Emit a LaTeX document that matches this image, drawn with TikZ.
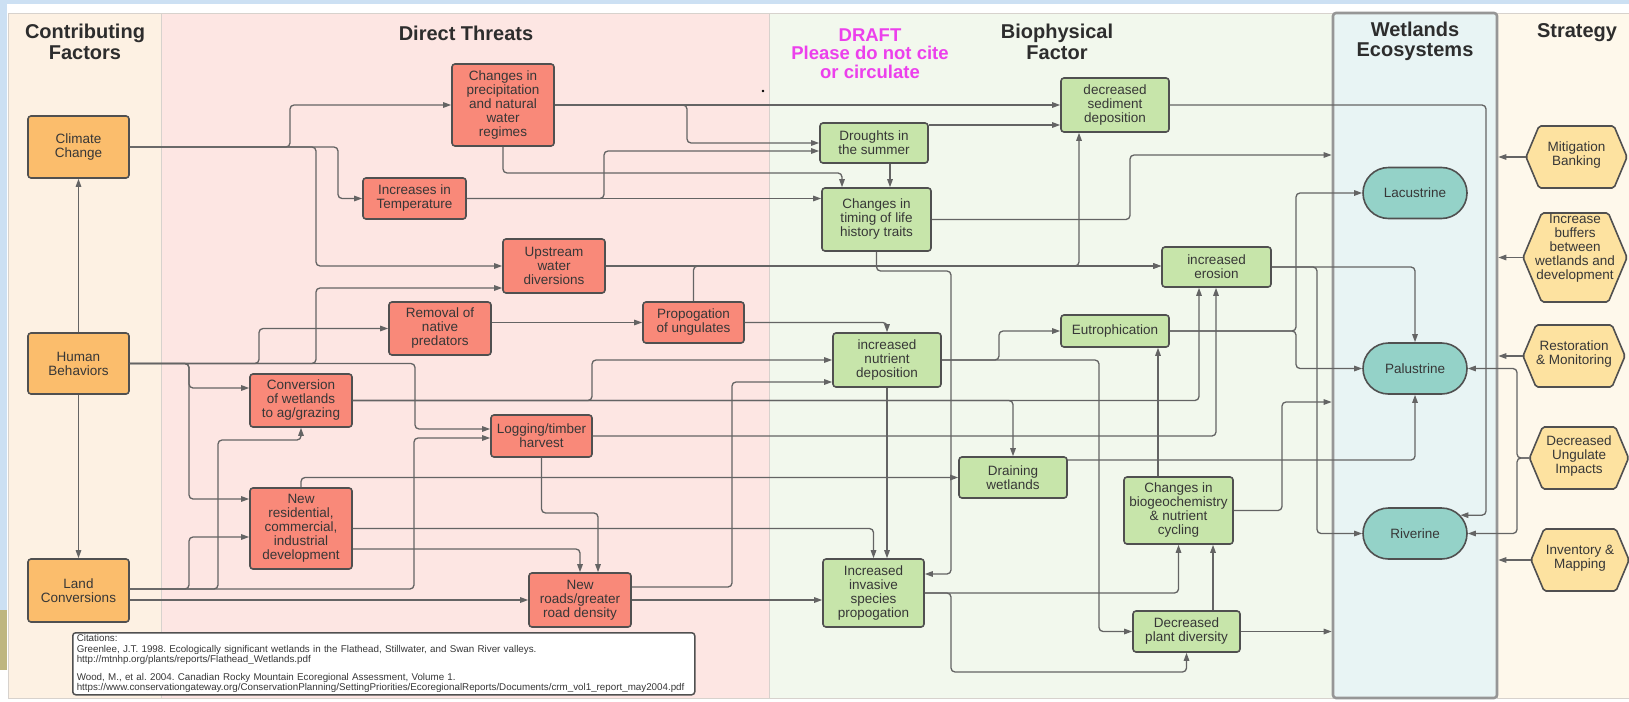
\documentclass[tikz,border=0pt]{standalone}
\usepackage{fontspec}
\setmainfont{Liberation Sans}
\usetikzlibrary{arrows.meta,shapes.misc}
\definecolor{linec}{RGB}{100,100,100}
\definecolor{bord}{RGB}{80,80,80}
\definecolor{txt}{RGB}{55,55,55}
\definecolor{headc}{RGB}{45,45,45}
\definecolor{corange}{RGB}{251,189,108}
\definecolor{csalmon}{RGB}{249,137,121}
\definecolor{cgreen}{RGB}{199,229,170}
\definecolor{cteal}{RGB}{148,210,200}
\definecolor{chex}{RGB}{253,226,160}
\definecolor{lcon}{RGB}{253,241,227}
\definecolor{lthr}{RGB}{253,230,227}
\definecolor{lbio}{RGB}{242,248,237}
\definecolor{lwet}{RGB}{232,244,244}
\definecolor{lstr}{RGB}{254,248,235}
\definecolor{blu}{RGB}{204,224,243}
\definecolor{oliv}{RGB}{190,182,128}
\definecolor{lanebord}{RGB}{215,210,205}
\definecolor{magent}{RGB}{236,64,236}
\newcommand{\mynodefont}{\fontsize{13.5}{14}\selectfont}
\newcommand{\myheadfont}{\fontsize{20}{20.5}\selectfont\bfseries}
\newcommand{\mydraftfont}{\fontsize{18.5}{18.4}\selectfont\bfseries}
\newcommand{\mycitefont}{\fontsize{9.8}{10.4}\selectfont\frenchspacing}
\tikzset{
  box/.style={draw=bord, line width=1.6pt, rounded corners=3pt, text=txt, align=center, inner sep=0pt, font=\mynodefont},
  cf/.style={box, fill=corange},
  dt/.style={box, fill=csalmon},
  bf/.style={box, fill=cgreen},
  we/.style={rounded rectangle, draw=bord, line width=1.6pt, fill=cteal, text=txt, font=\mynodefont, inner sep=0pt, minimum width=104pt, minimum height=51pt},
  hexs/.style={draw=bord, line width=1.6pt, fill=chex, rounded corners=2pt},
  hext/.style={text=txt, align=center, font=\mynodefont, inner sep=0pt},
  conn/.style={draw=linec, line width=1.3pt, rounded corners=4pt, -{Triangle[length=8pt,width=5.5pt]}},
  head/.style={font=\myheadfont, text=headc, align=center, inner sep=0pt},
  draftt/.style={font=\mydraftfont, text=magent, align=center, inner sep=0pt},
  lane/.style={draw=lanebord, line width=0.8pt},
}
\newcommand{\myhex}[7]{%
  \draw[hexs] ({#2-#4/2},#3) -- ({#2-#4/2+#5*0.21},{#3-#5/2}) -- ({#2+#4/2-#5*0.21},{#3-#5/2}) -- ({#2+#4/2},#3) -- ({#2+#4/2-#5*0.21},{#3+#5/2}) -- ({#2-#4/2+#5*0.21},{#3+#5/2}) -- cycle;
  \coordinate (#1tip) at ({#2-#4/2},#3);
  \node[hext] (#1) at (#2,#6) {#7};
}
\begin{document}
\begin{tikzpicture}[x=1pt,y=-1pt]
\useasboundingbox (0,0) rectangle (1629,701);
% background
\fill[white] (0,0) rectangle (1629,701);
\fill[blu] (0,0) rectangle (1629,4);
\fill[blu] (0,0) rectangle (7,610);
\fill[oliv] (0,610) rectangle (7,670);
% lanes
\draw[lane, fill=lcon] (8,13) rectangle (161,698);
\draw[lane, fill=lthr] (161,13) rectangle (769,698);
\draw[lane, fill=lbio] (769,13) rectangle (1333,698);
\draw[lane, fill=lstr] (1497,13) rectangle (1640,698);
\node[draw={rgb,255:red,150;green,150;blue,150}, line width=2.6pt, fill=lwet, rounded corners=3pt, minimum width=164pt, minimum height=685pt, inner sep=0pt] (wet) at (1415,355.5) {};
% headings
\node[head] (hcf) at (85,42) {Contributing\\Factors};
\node[head] (hdt) at (466,33) {Direct Threats};
\node[draftt] (hdraft) at (870,53.5) {DRAFT\\Please do not cite\\or circulate};
\node[head] (hbf) at (1057,42) {Biophysical\\Factor};
\node[head] (hwe) at (1415,41.5) {Wetlands\\Ecosystems};
\node[head] (hst) at (1577,33) {Strategy};
% contributing factors
\node[cf, minimum width=101pt, minimum height=62pt] (cc) at (78.5,147) {Climate\\Change};
\node[cf, minimum width=101pt, minimum height=61pt] (hb) at (78.5,363.5) {Human\\Behaviors};
\node[cf, minimum width=101pt, minimum height=63pt] (lc) at (78.5,590.5) {Land\\Conversions};
% direct threats
\node[dt, minimum width=102pt, minimum height=82pt] (prec) at (503,105) {Changes in\\precipitation\\and natural\\water\\regimes};
\node[dt, minimum width=103pt, minimum height=41pt] (temp) at (414.5,198.5) {Increases in\\Temperature};
\node[dt, minimum width=102pt, minimum height=54pt] (ups) at (554,266) {Upstream\\water\\diversions};
\node[dt, minimum width=102pt, minimum height=53pt] (rem) at (440,328.5) {Removal of\\native\\predators};
\node[dt, minimum width=101pt, minimum height=41pt] (prop) at (693.5,322.5) {Propogation\\of ungulates};
\node[dt, minimum width=102pt, minimum height=53pt] (conv) at (301,400.5) {Conversion\\of wetlands\\to ag/grazing};
\node[dt, minimum width=101pt, minimum height=42pt] (log) at (541.5,436) {Logging/timber\\harvest};
\node[dt, minimum width=102pt, minimum height=81pt] (newres) at (301,528.5) {New\\residential,\\commercial,\\industrial\\development};
\node[dt, minimum width=102pt, minimum height=54pt] (roads) at (580,600) {New\\roads/greater\\road density};
% biophysical
\node[bf, minimum width=108pt, minimum height=54pt] (sed) at (1115,105) {decreased\\sediment\\deposition};
\node[bf, minimum width=108pt, minimum height=40pt] (drought) at (874,143) {Droughts in\\the summer};
\node[bf, minimum width=109pt, minimum height=63pt] (timing) at (876.5,219.5) {Changes in\\timing of life\\history traits};
\node[bf, minimum width=109pt, minimum height=40pt] (eros) at (1216.5,267) {increased\\erosion};
\node[bf, minimum width=108pt, minimum height=32pt] (eut) at (1115,331) {Eutrophication};
\node[bf, minimum width=108pt, minimum height=54pt] (nut) at (887,360) {increased\\nutrient\\deposition};
\node[bf, minimum width=108pt, minimum height=41pt] (drain) at (1013,477.5) {Draining\\wetlands};
\node[bf, minimum width=109pt, minimum height=67pt] (bio) at (1178.5,510.5) {Changes in\\biogeochemistry\\\& nutrient\\cycling};
\node[bf, minimum width=101pt, minimum height=68pt] (inv) at (873.5,593) {Increased\\invasive\\species\\propogation};
\node[bf, minimum width=107pt, minimum height=41pt] (plant) at (1186.5,631.5) {Decreased\\plant diversity};
% wetlands
\node[we] (lac) at (1415,193) {Lacustrine};
\node[we] (pal) at (1415,368.5) {Palustrine};
\node[we] (riv) at (1415,533.5) {Riverine};
% strategies
\myhex{mit}{1576.5}{157}{101}{62}{155}{Mitigation\\Banking}
\myhex{buf}{1575}{257.5}{104}{89}{248.5}{Increase\\buffers\\between\\wetlands and\\development}
\myhex{rest}{1574}{356}{102}{62}{354}{Restoration\\\& Monitoring}
\myhex{dui}{1579}{458}{99}{62}{456}{Decreased\\Ungulate\\Impacts}
\myhex{invm}{1580}{560}{98}{62}{558}{Inventory \&\\Mapping}
% citations
\node[draw=bord, fill=white, line width=1.5pt, rounded corners=3pt, minimum width=622pt, minimum height=62pt, anchor=north west, inner xsep=4pt, inner ysep=2pt, align=left, text width=614pt, text=txt, font=\mycitefont] (cit) at (72,632) {Citations:\\Greenlee, J.T. 1998. Ecologically significant wetlands in the Flathead, Stillwater, and Swan River valleys.\\http://mtnhp.org/plants/reports/Flathead\_Wetlands.pdf\\[7pt]Wood, M., et al. 2004. Canadian Rocky Mountain Ecoregional Assessment, Volume 1.\\https://www.conservationgateway.org/ConservationPlanning/SettingPriorities/EcoregionalReports/Documents/crm\_vol1\_report\_may2004.pdf};
% connectors
\draw[conn] (hb.north) -- (cc.south);
\draw[conn] (hb.south) -- (lc.north);
\draw[conn] (cc.east) -- (290,147) |- (prec.west);
\draw[conn] (cc.east) -- (338,147) |- (temp.west);
\draw[conn] (cc.east) -- (316,147) |- (ups.west);
\draw[conn] (prec.east) -- (sed.west);
\draw[conn] (prec.east) -- (687,105) |- (drought.west);
\draw[conn] (temp.east) -- (604,198.5) |- (drought.west |- 0,151);
\draw[conn] (temp.east) -- (timing.west |- temp.east);
\draw[conn] (prec.south) |- (842,173) -- (timing.north -| 842,0);
\draw[conn] (drought.south -| 890,0) -- (timing.north -| 890,0);
\draw[conn] (drought.east |- 0,125) -- (sed.west |- 0,125);
\draw[conn] (timing.east) -- (1130,219.5) |- (wet.west |- 0,155);
\draw[conn] (timing.south) |- (951,271) -- (951,574) -- (inv.east |- 0,574);
\draw[conn] (sed.east) -- (1486,105) |- (riv.22);
\draw[conn] (ups.east) -- (eros.west |- ups.east);
\draw[conn] (ups.east) -| (sed.south -| 1079,0);
\draw[conn] (prop.north) |- (eros.west |- ups.east);
\draw[conn] (rem.east |- prop.west) -- (prop.west);
\draw[conn] (prop.east) -| (nut.north);
\draw[conn] (hb.east) -- (189,363.5) |- (conv.west |- 0,388);
\draw[conn] (hb.east) -- (189,363.5) |- (newres.west |- 0,499);
\draw[conn] (hb.east) -- (259,363.5) |- (rem.west);
\draw[conn] (hb.east) -- (316,363.5) |- (ups.west |- 0,288);
\draw[conn] (hb.east) -- (415,363.5) |- (log.west |- 0,429);
\draw[conn] (lc.east |- 0,589) -- (189,589) |- (newres.west |- 0,537);
\draw[conn] (lc.east |- 0,589) -- (218,589) -- (218,440) -| (conv.south);
\draw[conn] (lc.east |- 0,589) -- (414,589) |- (log.west |- 0,438);
\draw[conn] (lc.east |- 0,600) -- (roads.west);
\draw[conn] (roads.east) -- (inv.west |- roads.east);
\draw[conn] (roads.east |- 0,587) -- (732,587) |- (nut.west |- 0,382);
\draw[conn] (conv.east) -- (592,400.5) |- (nut.west);
\draw[conn] (conv.east) -| (drain.north);
\draw[conn] (conv.east) -| (eros.south -| 1199,0);
\draw[conn] (log.east) -| (eros.south -| 1216,0);
\draw[conn] (log.south) |- (598,513) -- (roads.north -| 598,0);
\draw[conn] (newres.north) |- (drain.west);
\draw[conn] (newres.east) -| (inv.north);
\draw[conn] (newres.east |- 0,549) -| (roads.north);
\draw[conn] (nut.south) -- (inv.north -| nut.south);
\draw[conn] (nut.east) -- (999,360) |- (eut.west);
\draw[conn] (nut.east) -- (1099,360) |- (plant.west);
\draw[conn] (inv.east) -| (bio.south);
\draw[conn] (inv.east) -- (951,593) |- (plant.south |- 0,672) -- (plant.south);
\draw[conn] (bio.north -| 1158,0) -- (eut.south -| 1158,0);
\draw[conn] (plant.north -| 1213,0) -- (bio.south -| 1213,0);
\draw[conn] (plant.east) -- (wet.west |- plant.east);
\draw[conn] (bio.east) -- (1282,510.5) |- (wet.west |- 0,402);
\draw[conn] (drain.east |- 0,460) -| (pal.south);
\draw[conn] (eut.east) -- (1296,331) |- (lac.west);
\draw[conn] (eut.east) -- (1296,331) |- (pal.west);
\draw[conn] (eros.east) -| (pal.north);
\draw[conn] (eros.east) -- (1317,267) |- (riv.west);
\draw[conn] (mittip) -- (wet.east |- mittip);
\draw[conn] (buftip) -- (wet.east |- buftip);
\draw[conn] (resttip) -- (wet.east |- resttip);
\draw[conn] (duitip) -- (1517,458) |- (pal.east);
\draw[conn] (duitip) -- (1517,458) |- (riv.east);
\draw[conn] (invmtip) -- (wet.east |- invmtip);
\fill[black] (763,91) circle (1.3);
\end{tikzpicture}
\end{document}
